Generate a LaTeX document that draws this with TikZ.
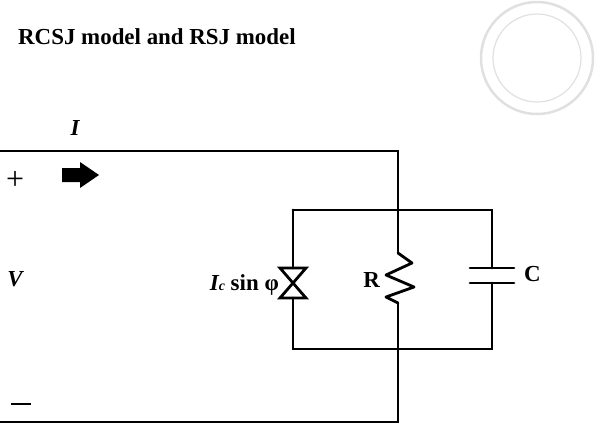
\documentclass[tikz,border=0pt]{standalone}
\usepackage{fontspec}
\setmainfont{Liberation Serif}
\usetikzlibrary{positioning}

\begin{document}
\begin{tikzpicture}[
    x=1bp, y=-1bp,
    wire/.style={line width=2.8bp, line cap=round},
    lbl/.style={font=\bfseries\fontsize{23}{25}\selectfont, inner sep=0},
    seal/.style={draw=black!12, line width=2.5bp}
]
    \useasboundingbox (0,0) rectangle (612,427);

    % Title and faint seal
    \node[lbl, anchor=west] (title) at (18,37) {RCSJ model and RSJ model};
    \draw[seal] (537,58) circle (56);
    \draw[seal, line width=1.2bp] (537,58) circle (44);

    % Outer leads
    \coordinate (tl) at (0,151);
    \coordinate (tr) at (398,151);
    \coordinate (bl) at (0,422);
    \coordinate (br) at (398,422);
    \node[lbl, font=\bfseries\itshape\fontsize{23}{25}\selectfont] (cur) at (75,128) {I};
    \coordinate (flow) at (62,175);
    \fill (flow) ++(0,-7) -- ++(18,0) -- ++(0,-6) -- ++(19,13) -- ++(-19,13)
        -- ++(0,-6) -- ++(-18,0) -- cycle;
    \node[lbl, font=\fontsize{32}{34}\selectfont] (plus) at (15,180) {+};
    \node[lbl, font=\bfseries\itshape\fontsize{23}{25}\selectfont] (volt) at (15,279) {V};
    \node[lbl] (minus) at (21,404) {\rule{20bp}{2bp}};

    % Parallel box
    \coordinate (nw) at (293,210);
    \coordinate (ne) at (492,210);
    \coordinate (sw) at (293,349);
    \coordinate (se) at (492,349);
    \draw[wire] (tl) -- (tr) -- (398,253);
    \draw[wire] (398,303) -- (br) -- (bl);
    \draw[wire] (nw) -- (ne) -- (492,268);
    \draw[wire] (492,283) -- (se) -- (sw) -- (293,298);
    \draw[wire] (nw) -- (293,268);

    % Josephson junction
    \draw[wire, line join=miter] (280,268) -- (306,268) -- (280,298) -- (306,298) -- cycle;
    \node[lbl, anchor=east] (jj) at (279,285) {\textit{I}\kern-0.5bp{\fontsize{14}{15}\selectfont\textit{c}} sin φ};

    % Resistor
    \draw[wire, line join=round] (398,253) -- (412,263) -- (386,275) -- (414,287)
        -- (386,297) -- (398,303);
    \node[lbl, anchor=east] (res) at (380,280) {R};

    % Capacitor
    \draw[wire] (470,268) -- (514,268);
    \draw[wire] (470,283) -- (514,283);
    \node[lbl, anchor=west] (cap) at (524,274) {C};
\end{tikzpicture}
\end{document}
